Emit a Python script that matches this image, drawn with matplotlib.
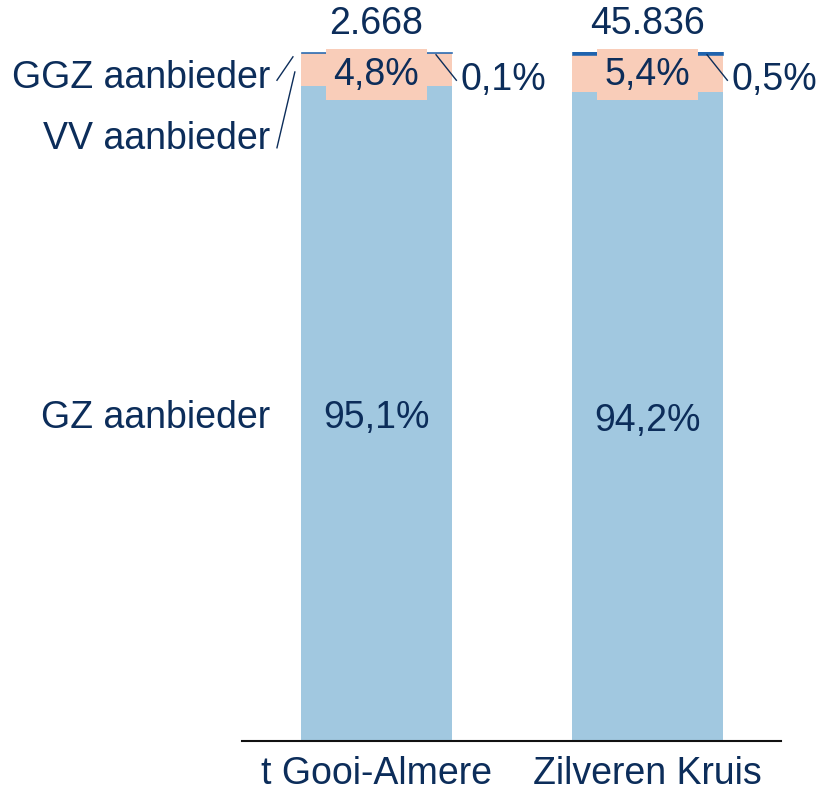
import matplotlib.pyplot as plt
import numpy as np

plt.rcParams['font.family'] = ['Liberation Sans', 'DejaVu Sans']

categories = ["t Gooi-Almere", "Zilveren Kruis"]
totals = ["2.668", "45.836"]
gz = [95.1, 94.2]
ggz = [4.8, 5.4]
vv = [0.1, 0.5]
gz_lbl = ["95,1%", "94,2%"]
ggz_lbl = ["4,8%", "5,4%"]
vv_lbl = ["0,1%", "0,5%"]

c_gz = "#A1C8E0"
c_ggz = "#F9CDB9"
c_vv = "#1F63AE"
txt = "#0C2D5A"
fs = 27

W, H = 825, 794
fig = plt.figure(figsize=(W / 100, H / 100), dpi=100)
ax = fig.add_axes([242 / W, 1 - 741 / H, (781 - 242) / W, (741 - 52) / H])

x = np.arange(len(categories))
bw = 0.557
gz_a = np.array(gz)
ggz_a = np.array(ggz)
vv_a = np.array(vv)
ax.bar(x, gz_a, bw, color=c_gz)
ax.bar(x, ggz_a, bw, bottom=gz_a, color=c_ggz)
ax.bar(x, vv_a, bw, bottom=gz_a + ggz_a, color=c_vv, edgecolor=c_vv, linewidth=0.4)

for i in range(len(x)):
    ax.text(x[i], gz[i] / 2 - 0.6, gz_lbl[i], ha="center", va="center", fontsize=fs, color=txt)
    ax.text(x[i], 96.7, ggz_lbl[i], ha="center", va="center", fontsize=fs, color=txt,
            bbox=dict(boxstyle="square,pad=0.2", fc=c_ggz, ec="none"))
    ax.text(x[i], 104.0, totals[i], ha="center", va="center", fontsize=fs, color=txt, clip_on=False)
    # leader to VV share on right
    ax.plot([x[i] + 0.22, x[i] + 0.295], [99.6, 95.9], color=txt, lw=1, clip_on=False)
    ax.text(x[i] + 0.31, 96.0, vv_lbl[i], ha="left", va="center", fontsize=fs, color=txt)

# series labels on the left
lx = x[0] - 0.393
ax.text(lx, 96.2, "GGZ aanbieder", ha="right", va="center", fontsize=fs, color=txt)
ax.text(lx, 87.4, "VV aanbieder", ha="right", va="center", fontsize=fs, color=txt)
ax.text(lx, 46.9, "GZ aanbieder", ha="right", va="center", fontsize=fs, color=txt)
ax.plot([x[0] - 0.308, x[0] - 0.367], [99.3, 95.9], color=txt, lw=1, clip_on=False)
ax.plot([x[0] - 0.301, x[0] - 0.367], [97.1, 86.1], color=txt, lw=1, clip_on=False)

ax.set_xlim(-0.496, 1.493)
ax.set_ylim(0, 100)
ax.set_xticks(x)
ax.set_xticklabels(categories, fontsize=fs, color=txt)
ax.tick_params(axis="x", length=0, pad=11)
ax.set_yticks([])
for s in ["top", "right", "left"]:
    ax.spines[s].set_visible(False)
ax.spines["bottom"].set_linewidth(1.5)
ax.spines["bottom"].set_color("#111111")

fig.savefig("out.png", dpi=100)
